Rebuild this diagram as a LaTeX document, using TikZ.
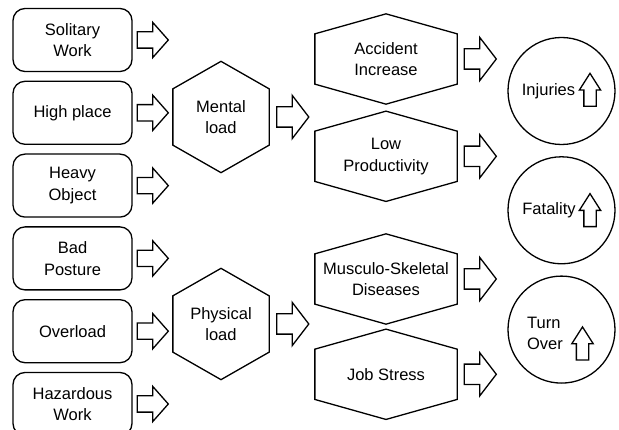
\documentclass[tikz,border=0pt]{standalone}
\usepackage{fontspec}
\setmainfont{Liberation Sans}
\usetikzlibrary{positioning,shapes.arrows}
\tikzset{%
  % Specifications for style of nodes:
       base/.style = {line width=1.3pt, align=center, inner sep=0pt,
                      font=\fontsize{16.5}{21.5}\selectfont},
     factor/.style = {base, rectangle, rounded corners=12pt, draw=black,
                      minimum width=119pt, minimum height=63pt},
     pointy/.style = {append after command={\pgfextra{%
                        \draw[line width=1.3pt]
                          (\tikzlastnode.north west)
                          -- ([yshift=#1]\tikzlastnode.north)
                          -- (\tikzlastnode.north east)
                          -- (\tikzlastnode.south east)
                          -- ([yshift=-#1]\tikzlastnode.south)
                          -- (\tikzlastnode.south west) -- cycle;}}},
       load/.style = {base, minimum width=95pt, minimum height=55pt,
                      pointy=27.5pt},
     effect/.style = {base, minimum width=141pt, minimum height=49pt,
                      pointy=20pt},
    outcome/.style = {base, circle, draw=black, minimum size=107pt},
  % Specifications for the block arrows:
    inarrow/.style = {base, single arrow, draw=black, inner sep=7.5pt,
                      single arrow head extend=9.5pt,
                      single arrow tip angle=97, minimum height=31pt},
   outarrow/.style = {inarrow, inner sep=9.5pt,
                      single arrow head extend=11.5pt,
                      single arrow tip angle=105, minimum height=32pt},
    uparrow/.style = {inarrow, shape border rotate=90, inner sep=5.5pt,
                      single arrow head extend=4.5pt,
                      single arrow tip angle=65, minimum height=33pt},
}

\begin{document}
\begin{tikzpicture}[x=1pt, y=1pt, node distance=8.5pt]
  \useasboundingbox (0,0) rectangle (619,-430);

  % Specification of nodes (position, etc.)
  \node (solitary)  [factor] at (72.5,-40)        {Solitary\\Work};
  \node (highPlace) [factor, below=of solitary]  {High place};
  \node (heavyObj)  [factor, below=of highPlace] {Heavy\\Object};
  \node (badPost)   [factor, below=of heavyObj]  {Bad\\Posture};
  \node (overload)  [factor, below=of badPost]   {Overload};
  \node (hazardous) [factor, below=of overload]  {Hazardous\\Work};

  \node (mental)    [load] at (221,-117)          {Mental\\load};
  \node (physical)  [load] at (221,-324)          {Physical\\load};

  \node (accident)  [effect] at (386,-59)         {Accident\\Increase};
  \node (lowProd)   [effect, below=47pt of accident] {Low\\Productivity};
  \node (musculo)   [effect] at (386,-279)        {Musculo-Skeletal\\Diseases};
  \node (jobStress) [effect, below=45pt of musculo]  {Job Stress};

  \node (injuries)  [outcome] at (561.5,-91)      {};
  \node (fatality)  [outcome, below=11pt of injuries] {};
  \node (turnOver)  [outcome, below=11pt of fatality] {};

  % Texts and rising arrows inside the circles
  \node (injText)  [base] at ([xshift=-13pt]injuries.center)   {Injuries};
  \node (fatText)  [base] at ([xshift=-12.5pt]fatality.center) {Fatality};
  \node (turnText) [base, align=left]
                   at ([shift={(-16.5pt,-4pt)}]turnOver.center) {Turn\\Over};
  \node (injUp)  [uparrow, anchor=tail] at ([shift={(28.5pt,-16pt)}]injuries.center) {};
  \node (fatUp)  [uparrow, anchor=tail] at ([shift={(28.5pt,-17pt)}]fatality.center) {};
  \node (turnUp) [uparrow, anchor=tail] at ([shift={(21pt,-31pt)}]turnOver.center) {};

  % Block arrows between the columns
  \node (aSolitary)  [inarrow, right=4pt of solitary]  {};
  \node (aHighPlace) [inarrow, right=4pt of highPlace] {};
  \node (aHeavyObj)  [inarrow, right=4pt of heavyObj]  {};
  \node (aBadPost)   [inarrow, right=4pt of badPost]   {};
  \node (aOverload)  [inarrow, right=4pt of overload]  {};
  \node (aHazardous) [inarrow, right=4pt of hazardous] {};

  \node (aMental)    [outarrow, right=7pt of mental]   {};
  \node (aPhysical)  [outarrow, right=7pt of physical] {};

  \node (aAccident)  [outarrow, right=6.5pt of accident]  {};
  \node (aLowProd)   [outarrow, right=6.5pt of lowProd]   {};
  \node (aMusculo)   [outarrow, right=6.5pt of musculo]   {};
  \node (aJobStress) [outarrow, right=6.5pt of jobStress] {};

\end{tikzpicture}
\end{document}
